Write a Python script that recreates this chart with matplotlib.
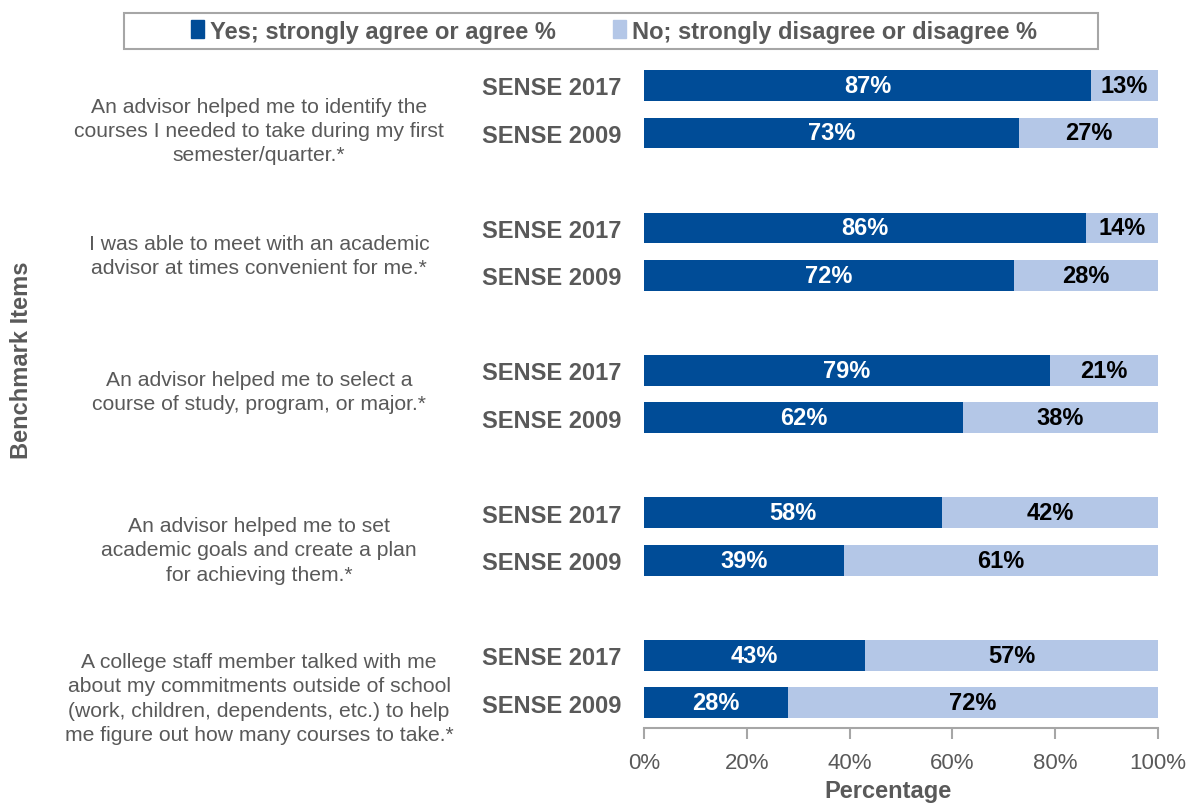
import matplotlib.pyplot as plt
from matplotlib.patches import Patch, Rectangle

# Data
items = [
    "An advisor helped me to identify the\ncourses I needed to take during my first\nsemester/quarter.*",
    "I was able to meet with an academic\nadvisor at times convenient for me.*",
    "An advisor helped me to select a\ncourse of study, program, or major.*",
    "An advisor helped me to set\nacademic goals and create a plan\nfor achieving them.*",
    "A college staff member talked with me\nabout my commitments outside of school\n(work, children, dependents, etc.) to help\nme figure out how many courses to take.*",
]
years = ["SENSE 2017", "SENSE 2009"]
yes_2017 = [87, 86, 79, 58, 43]
no_2017 = [13, 14, 21, 42, 57]
yes_2009 = [73, 72, 62, 39, 28]
no_2009 = [27, 28, 38, 61, 72]
ticks = [0, 20, 40, 60, 80, 100]

# vertical nudge of each item text (layout only)
text_offsets = [0.95, 0.58, 0.44, 0.78, 0.9]

dark = "#004C97"
light = "#B4C7E7"
grey = "#595959"

plt.rcParams['font.family'] = ['Liberation Sans', 'DejaVu Sans']

fig = plt.figure(figsize=(11.91, 8.04), dpi=100)
ax = fig.add_axes([644 / 1191, 75 / 804, 514 / 1191, 675.75 / 804])

# Positions: two bars per group, groups three units apart
pos_2017 = [i * 3 for i in range(len(items))]
pos_2009 = [i * 3 + 1 for i in range(len(items))]

for pos, yes, no in [(pos_2017, yes_2017, no_2017), (pos_2009, yes_2009, no_2009)]:
    b1 = ax.barh(pos, yes, height=0.65, color=dark)
    b2 = ax.barh(pos, no, left=yes, height=0.65, color=light)
    ax.bar_label(b1, labels=[f"{v}%" for v in yes], label_type='center',
                 color='white', fontsize=17, fontweight='bold')
    ax.bar_label(b2, labels=[f"{v}%" for v in no], label_type='center',
                 color='black', fontsize=17, fontweight='bold')

ax.set_xlim(0, 100)
ax.set_ylim(13.53, -0.7)
ax.set_yticks(pos_2017 + pos_2009)
ax.set_yticklabels([years[0]] * 5 + [years[1]] * 5, fontsize=17,
                   fontweight='bold', color=grey)
ax.tick_params(axis='y', length=0, pad=16)
ax.set_xticks(ticks)
ax.set_xticklabels([f"{t}%" for t in ticks], fontsize=16, color=grey)
ax.tick_params(axis='x', length=8, color='#A6A6A6', width=1.5, pad=9)
for s in ['top', 'right', 'left']:
    ax.spines[s].set_visible(False)
ax.spines['bottom'].set_color('#A6A6A6')
ax.spines['bottom'].set_linewidth(1.5)

# Item text to the left
for i, txt in enumerate(items):
    ax.text((259 - 644) / 514 * 100, pos_2017[i] + text_offsets[i], txt,
            ha='center', va='center', fontsize=15.2, color=grey,
            linespacing=1.35, clip_on=False)

fig.text(22 / 1191, 1 - 360 / 804, "Benchmark Items", rotation=90,
         ha='center', va='center', fontsize=17, fontweight='bold', color=grey)
fig.text(888 / 1191, 1 - 792 / 804, "Percentage", ha='center', va='center',
         fontsize=17, fontweight='bold', color=grey)

# Legend box and entries
fig.patches.append(Rectangle((124 / 1191, 1 - 50 / 804), 974 / 1191, 36 / 804,
                             transform=fig.transFigure, fill=False,
                             edgecolor='#A6A6A6', linewidth=1.5))
handles = [Patch(color=dark, label="Yes; strongly agree or agree %"),
           Patch(color=light, label="No; strongly disagree or disagree %")]
leg = fig.legend(handles=handles, loc='center', ncol=2,
                 bbox_to_anchor=(614 / 1191, 1 - 32 / 804),
                 frameon=False, handlelength=0.55, handleheight=0.8,
                 handletextpad=0.25, columnspacing=2.4, borderaxespad=0,
                 prop={'size': 17, 'weight': 'bold'})
for t in leg.get_texts():
    t.set_color(grey)

fig.savefig("out.png", dpi=100)
